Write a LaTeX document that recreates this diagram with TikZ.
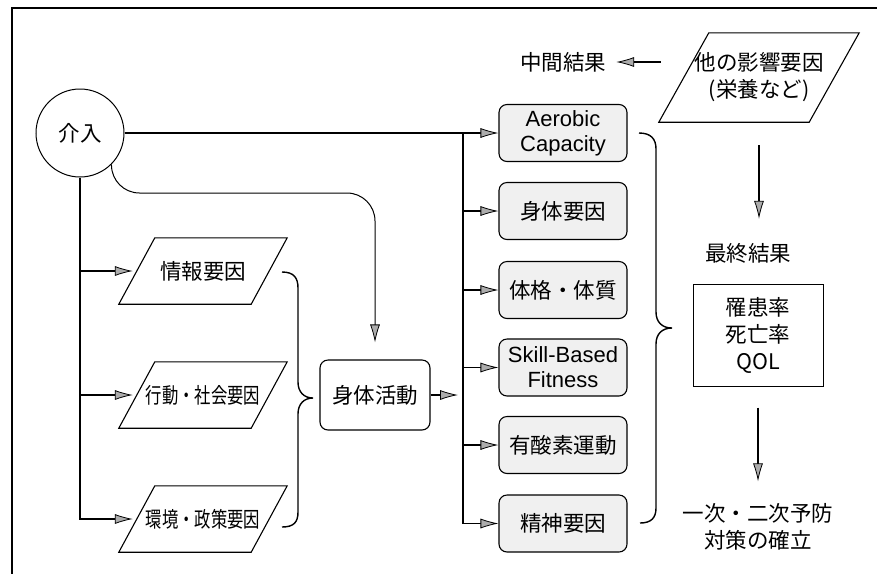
\documentclass[tikz,border=0pt]{standalone}
\usepackage{fontspec}
\setmainfont{Noto Sans CJK JP}
\newfontfamily\latf{Liberation Sans}
\newfontfamily\jpcond[FakeStretch=0.76]{Noto Sans CJK JP}
\usetikzlibrary{arrows.meta}
\newcommand\drawpara[2]{\draw[line width=1.1pt] ([xshift=#2]#1.north west) -- (#1.north east) -- ([xshift=-#2]#1.south east) -- (#1.south west) -- cycle;}
\begin{document}
\begin{tikzpicture}[x=1pt,y=-1pt,
  base/.style={inner sep=0pt, align=center, font=\fontsize{21.5}{27}\selectfont},
  lat/.style={font=\latf\fontsize{22}{25}\selectfont},
  cond/.style={font=\jpcond\fontsize{21.5}{27}\selectfont},
  para/.style={base, minimum width=168pt, minimum height=66pt},
  fbox/.style={base, draw, rounded corners=8pt, fill=gray!12, line width=1.1pt, minimum width=128pt, minimum height=57pt},
  tip/.style={-{Latex[length=18pt,width=10pt,fill=gray!65,line width=0.8pt]}},
  arr/.style={line width=1.8pt, tip},
  tarr/.style={line width=1pt, tip},
  brace/.style={line width=1.4pt}
]
\useasboundingbox (0,0) rectangle (877,574);
\draw[line width=1.3pt] (877,8) -- (12,8) -- (12,574);

% nodes
\node[base, circle, draw, line width=1pt, minimum size=88pt] (iv) at (80,133) {介入};
\node[para] (info) at (203,271) {情報要因};
\node[para, cond] (beh) at (203,395) {行動・社会要因};
\node[para, cond] (env) at (203,519) {環境・政策要因};
\drawpara{info}{36pt}
\drawpara{beh}{36pt}
\drawpara{env}{36pt}

\node[base, draw, rounded corners=8pt, line width=1.1pt, minimum width=110pt, minimum height=70pt] (sa) at (375,395) {身体活動};

\node[fbox, lat] (aer) at (563,133) {Aerobic\\Capacity};
\node[fbox] (body) at (563,211) {身体要因};
\node[fbox] (phys) at (563,290) {体格・体質};
\node[fbox, lat] (skill) at (563,367.5) {Skill-Based\\Fitness};
\node[fbox] (aero) at (563,445) {有酸素運動};
\node[fbox] (mind) at (563,523.5) {精神要因};

\node[base, minimum width=200pt, minimum height=89pt] (oth) at (759,77.5) {他の影響要因\\(栄養など)};
\drawpara{oth}{50pt}
\node[base] (mid) at (563,62) {中間結果};
\node[base] (fin) at (748,253) {最終結果};
\node[base, draw, line width=1pt, minimum width=130pt, minimum height=102pt] (res) at (758,335) {罹患率\\死亡率\\QOL};
\node[base] (prev) at (758,527) {一次・二次予防\\対策の確立};

\coordinate (bt) at (463,133);
\coordinate (bend) at (375,193);

% connectors
\draw[arr] (iv.east) -- (aer.west);
\draw[arr] (bt) |- (mind.west);
\foreach \b in {body,phys,skill,aero} \draw[arr] (bt |- \b.west) -- (\b.west);
\draw[arr, shorten >=5pt] (sa.east) -- (bt |- sa.east);
\draw[arr] (iv.south) |- ([xshift=14pt]env.west);
\draw[arr] (iv.south |- info.west) -- ([xshift=14pt]info.west);
\draw[arr] (iv.south |- beh.west) -- ([xshift=14pt]beh.west);
\draw[tarr, rounded corners=28pt, shorten >=17pt] (iv.-45) |- (bend) -- (sa.north);
\draw[arr, shorten <=19pt, shorten >=10pt] ([xshift=21pt]oth.west |- mid.east) -- (mid.east);
\draw[arr, shorten <=23pt, shorten >=24pt] (oth.south) -- (oth.south |- fin.north);
\draw[arr, shorten <=21pt, shorten >=22pt] (res.south) -- (res.south |- prev.north);

% braces
\draw[brace] (282,272) .. controls (294,272) and (298,278) .. (298,288) -- (298,382) .. controls (298,392) and (304,398) .. (313,398) .. controls (304,398) and (298,404) .. (298,414) -- (298,512) .. controls (298,522) and (294,527) .. (282,527);
\draw[brace] (639,133) .. controls (651,133) and (656,139) .. (656,149) -- (656,312) .. controls (656,322) and (662,328) .. (672,328) .. controls (662,328) and (656,334) .. (656,344) -- (656,508) .. controls (656,518) and (651,523) .. (640,523);
\end{tikzpicture}
\end{document}
